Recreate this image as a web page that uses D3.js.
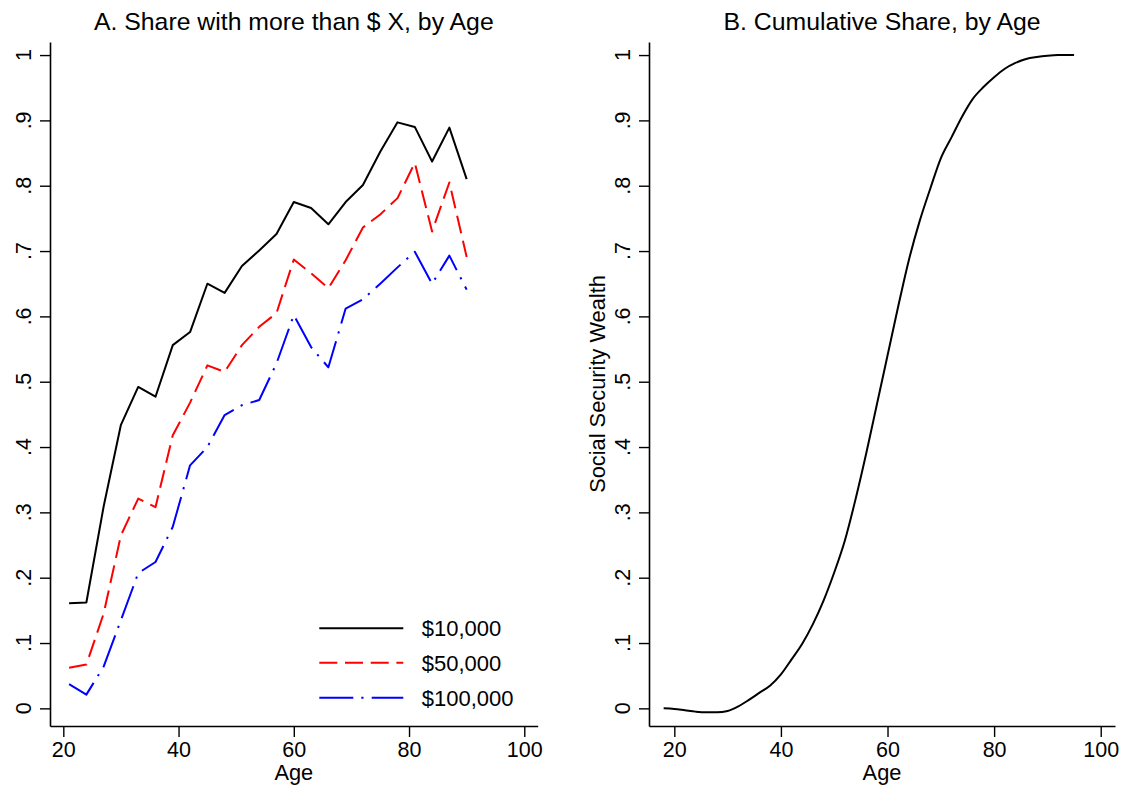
<!DOCTYPE html>
<html>
<head>
<meta charset="utf-8">
<script src="https://cdn.jsdelivr.net/npm/d3@7"></script>
<style>
  html, body { margin: 0; padding: 0; background: #fff; }
  svg { display: block; font-family: "Liberation Sans", Arial, Helvetica, sans-serif; }
</style>
</head>
<body>
<svg id="chart" width="1124" height="786"></svg>
<script>
// ---------- DATA ----------
const agesA = [21, 24, 27, 30, 33, 36, 39, 42, 45, 48, 51, 54, 57, 60, 63, 66, 69, 72, 75, 78, 81, 84, 87, 90];
const share10k  = [0.161, 0.162, 0.309, 0.434, 0.492, 0.477, 0.556, 0.576, 0.650, 0.636, 0.677, 0.701, 0.726, 0.775, 0.766, 0.741, 0.775, 0.801, 0.852, 0.897, 0.890, 0.837, 0.889, 0.810];
const share50k  = [0.062, 0.067, 0.145, 0.265, 0.321, 0.308, 0.418, 0.468, 0.525, 0.515, 0.556, 0.584, 0.605, 0.687, 0.666, 0.643, 0.686, 0.736, 0.756, 0.781, 0.835, 0.730, 0.805, 0.691];
const share100k = [0.037, 0.021, 0.064, 0.135, 0.207, 0.224, 0.278, 0.372, 0.400, 0.449, 0.464, 0.472, 0.528, 0.602, 0.553, 0.522, 0.612, 0.626, 0.650, 0.675, 0.699, 0.650, 0.693, 0.641];
const seriesNames = ["$10,000", "$50,000", "$100,000"];

const agesB = [18, 20, 22, 24, 26, 28, 30, 32, 34, 36, 38, 40, 42, 44, 46, 48, 50, 52, 54, 56, 58, 60, 62, 64, 66, 68, 70, 72, 74, 76, 78, 80, 82, 84, 86, 88, 90, 92, 95];
const cumShare = [0.000, -0.001, -0.003, -0.005, -0.006, -0.006, -0.004, 0.003, 0.013, 0.024, 0.035, 0.052, 0.075, 0.099, 0.129, 0.165, 0.208, 0.257, 0.320, 0.390, 0.465, 0.540, 0.615, 0.686, 0.745, 0.795, 0.842, 0.874, 0.906, 0.933, 0.951, 0.966, 0.979, 0.988, 0.994, 0.997, 0.999, 1.000, 1.000];

const xTicks = [20, 40, 60, 80, 100];
const yTicks = [0, 0.1, 0.2, 0.3, 0.4, 0.5, 0.6, 0.7, 0.8, 0.9, 1];
const yTickLabels = ["0", ".1", ".2", ".3", ".4", ".5", ".6", ".7", ".8", ".9", "1"];

const titleA = "A. Share with more than $ X, by Age";
const titleB = "B. Cumulative Share, by Age";
const xTitle = "Age";
const yTitleB = "Social Security Wealth";

// ---------- STYLE ----------
const colors = ["#000000", "#ff0000", "#0000ff"];
const dashes = [null, "18,7.7", "34,8,2.2,8.2"];
const tickFont = 21.5, titleFont = 24.8, axisTitleFont = 21.8, legendFont = 22;

const svg = d3.select("#chart");

function yLabelFmt(d) { return yTickLabels[yTicks.indexOf(d)]; }

function drawPanel(x, y, title, yTitle) {
  const [x0, x1] = x.range();
  const [yb, yt] = y.range();
  // x axis
  const gx = svg.append("g").attr("transform", `translate(0,${yb})`)
    .call(d3.axisBottom(x).tickValues(xTicks).tickSize(11).tickSizeOuter(0).tickFormat(d3.format("d")));
  gx.attr("font-size", tickFont).attr("font-family", null);
  gx.select(".domain").attr("stroke", "#000").attr("stroke-width", 1.6);
  gx.selectAll(".tick line").attr("stroke", "#000").attr("stroke-width", 1.4);
  gx.selectAll(".tick text").attr("y", 31).attr("dy", 0).attr("fill", "#000");
  // y axis (tick marks from axis, labels drawn as rotated text)
  const gy = svg.append("g").attr("transform", `translate(${x0},0)`)
    .call(d3.axisLeft(y).tickValues(yTicks).tickSize(10).tickSizeOuter(0).tickFormat(""));
  gy.select(".domain").attr("stroke", "#000").attr("stroke-width", 1.6);
  gy.selectAll(".tick line").attr("stroke", "#000").attr("stroke-width", 1.4);
  svg.append("g").selectAll("text").data(yTicks).join("text")
    .attr("transform", d => `translate(${x0 - 19.5},${y(d)}) rotate(-90)`)
    .attr("text-anchor", "middle")
    .attr("font-size", tickFont).attr("fill", "#000")
    .text(yLabelFmt);
  // titles
  svg.append("text").attr("x", (x0 + x1) / 2).attr("y", 30)
    .attr("text-anchor", "middle").attr("font-size", titleFont).attr("fill", "#000").text(title);
  svg.append("text").attr("x", (x0 + x1) / 2).attr("y", 780)
    .attr("text-anchor", "middle").attr("font-size", axisTitleFont).attr("fill", "#000").text(xTitle);
  if (yTitle) {
    svg.append("text").attr("transform", `translate(${x0 - 44},${(yb + yt) / 2}) rotate(-90)`)
      .attr("text-anchor", "middle").attr("font-size", axisTitleFont).attr("fill", "#000").text(yTitle);
  }
}

// ---------- PANEL A ----------
const xA = d3.scaleLinear().domain([17.69, 102.33]).range([50, 537.7]);
const yA = d3.scaleLinear().domain([-0.027, 1.02]).range([726, 42]);
drawPanel(xA, yA, titleA, null);

const seriesA = [share10k, share50k, share100k];
const lineA = d3.line().x(d => xA(d[0])).y(d => yA(d[1]));
seriesA.forEach((vals, i) => {
  svg.append("path")
    .datum(agesA.map((a, j) => [a, vals[j]]))
    .attr("d", lineA)
    .attr("fill", "none")
    .attr("stroke", colors[i])
    .attr("stroke-width", 2)
    .attr("stroke-linejoin", "round")
    .attr("stroke-dasharray", dashes[i]);
});

// legend
const legY = [628.3, 662.7, 697.7];
seriesNames.forEach((name, i) => {
  svg.append("line").attr("x1", 319.3).attr("x2", 403.3).attr("y1", legY[i]).attr("y2", legY[i])
    .attr("stroke", colors[i]).attr("stroke-width", 2).attr("stroke-dasharray", dashes[i]);
  svg.append("text").attr("x", 421.7).attr("y", legY[i] + 8)
    .attr("font-size", legendFont).attr("fill", "#000").text(name);
});

// ---------- PANEL B ----------
const xB = d3.scaleLinear().domain([15.25, 102.68]).range([649, 1115]);
const yB = d3.scaleLinear().domain([-0.027, 1.02]).range([726, 42]);
drawPanel(xB, yB, titleB, yTitleB);

svg.append("path")
  .datum(agesB.map((a, j) => [a, cumShare[j]]))
  .attr("d", d3.line().curve(d3.curveMonotoneX).x(d => xB(d[0])).y(d => yB(d[1])))
  .attr("fill", "none")
  .attr("stroke", "#000")
  .attr("stroke-width", 2);
</script>
</body>
</html>
